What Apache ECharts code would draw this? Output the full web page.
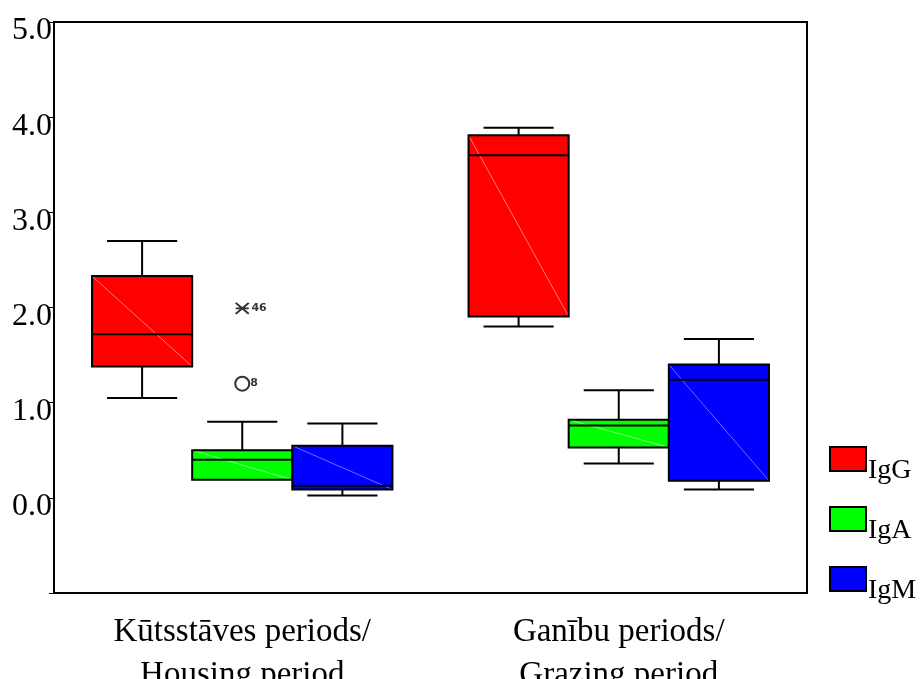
<!DOCTYPE html>
<html>
<head>
<meta charset="utf-8">
<script src="https://cdn.jsdelivr.net/npm/echarts@6/dist/echarts.min.js"></script>
<style>
  html, body { margin: 0; padding: 0; background: #fff; }
  #chart { width: 923px; height: 679px; }
</style>
</head>
<body>
<div id="chart"></div>
<script>
// Immunoglobulin levels by period: [min, Q1, median, Q3, max]
const categories = ['Kūtsstāves periods/\nHousing period', 'Ganību periods/\nGrazing period'];
const seriesNames = ['IgG', 'IgA', 'IgM'];
const igG = [[1.05, 1.38, 1.72, 2.33, 2.70], [1.80, 1.905, 3.60, 3.81, 3.89]];
const igA = [[0.19, 0.19, 0.40, 0.50, 0.80], [0.36, 0.53, 0.76, 0.82, 1.13]];
const igM = [[0.024, 0.087, 0.126, 0.547, 0.78], [0.087, 0.179, 1.24, 1.40, 1.67]];
// Outlying IgA cases: [category index, value, case label]
const igAExtremes = [[0, 1.99, '46']];
const igAOutliers = [[0, 1.20, '8']];
const yTicks = [-1, 0, 1, 2, 3, 4, 5];

const colors = ['#ff0000', '#00ff00', '#0000ff'];
const diagColors = ['#ff9a9a', '#9aff9a', '#8a8aff'];
const BOX_FRAC = 0.266;   // box width as a share of the category band
const CAP_FRAC = 0.7;     // whisker cap width as a share of the box width

function boxRender(pos) {
  return function (params, api) {
    const cat = api.value(0);
    const band = api.size([1, 0])[0];
    const bw = band * BOX_FRAC;
    const cx = api.coord([cat, 0])[0] + (pos - 1) * bw;
    const y = i => api.coord([cat, api.value(i)])[1];
    const yMin = y(1), yQ1 = y(2), yMed = y(3), yQ3 = y(4), yMax = y(5);
    const x0 = cx - bw / 2, x1 = cx + bw / 2;
    const cw = bw * CAP_FRAC;
    const line = (ax, ay, bx, by, w, c) => ({
      type: 'line',
      shape: { x1: ax, y1: ay, x2: bx, y2: by },
      style: { stroke: c || '#000', lineWidth: w }
    });
    const kids = [];
    // whiskers and caps
    if (yMax < yQ3) {
      kids.push(line(cx, yQ3, cx, yMax, 2));
      kids.push(line(cx - cw / 2, yMax, cx + cw / 2, yMax, 2));
    }
    if (yMin > yQ1) {
      kids.push(line(cx, yQ1, cx, yMin, 2));
      kids.push(line(cx - cw / 2, yMin, cx + cw / 2, yMin, 2));
    }
    // box body
    kids.push({
      type: 'rect',
      shape: { x: x0, y: yQ3, width: bw, height: yQ1 - yQ3 },
      style: { fill: colors[pos], stroke: 'none' }
    });
    kids.push(line(x0, yQ3, x1, yQ1, 0.8, diagColors[pos]));
    kids.push({
      type: 'rect',
      shape: { x: x0, y: yQ3, width: bw, height: yQ1 - yQ3 },
      style: { fill: 'none', stroke: '#000', lineWidth: 2 }
    });
    // median
    kids.push(line(x0, yMed, x1, yMed, 2));
    return { type: 'group', children: kids };
  };
}

function toItems(arr) {
  return arr.map((v, i) => [i].concat(v));
}

const serif = 'Liberation Serif, Times New Roman, serif';

const chart = echarts.init(document.getElementById('chart'));
chart.setOption({
  animation: false,
  backgroundColor: '#fff',
  grid: {
    left: 54, right: 116, top: 22, bottom: 86,
    containLabel: false, outerBoundsMode: 'none',
    show: true, borderColor: '#000', borderWidth: 2, backgroundColor: 'transparent'
  },
  legend: {
    data: seriesNames,
    orient: 'vertical',
    left: 824, top: 428,
    icon: 'rect',
    itemWidth: 36, itemHeight: 24, itemGap: 8,
    itemStyle: { borderColor: '#000', borderWidth: 2 },
    formatter: name => '\n' + name,
    textStyle: { fontFamily: serif, fontSize: 28, color: '#000', lineHeight: 24, padding: [0, 0, 0, -3] },
    selectedMode: false
  },
  xAxis: {
    type: 'category',
    data: categories,
    axisLine: { onZero: false, lineStyle: { color: '#000', width: 2 } },
    axisTick: { alignWithLabel: true, length: 7, lineStyle: { color: '#000', width: 1 } },
    axisLabel: { fontFamily: serif, fontSize: 33, color: '#000', margin: 18, lineHeight: 43 },
    splitLine: { show: false }
  },
  yAxis: {
    type: 'value',
    min: yTicks[0], max: yTicks[yTicks.length - 1], interval: 1,
    axisLine: { show: true, lineStyle: { color: '#000', width: 2 } },
    axisTick: { show: true, length: 5, lineStyle: { color: '#000', width: 1 } },
    axisLabel: {
      fontFamily: serif, fontSize: 32, color: '#000', margin: 2, lineHeight: 18,
      formatter: v => (v < 0 ? '' : '\n' + v.toFixed(1))
    },
    splitLine: { show: false }
  },
  series: [
    { name: 'IgG', type: 'custom', renderItem: boxRender(0), itemStyle: { color: colors[0] },
      encode: { x: 0, y: [1, 2, 3, 4, 5] }, data: toItems(igG), z: 2 },
    { name: 'IgA', type: 'custom', renderItem: boxRender(1), itemStyle: { color: colors[1] },
      encode: { x: 0, y: [1, 2, 3, 4, 5] }, data: toItems(igA), z: 2 },
    { name: 'IgM', type: 'custom', renderItem: boxRender(2), itemStyle: { color: colors[2] },
      encode: { x: 0, y: [1, 2, 3, 4, 5] }, data: toItems(igM), z: 2 },
    { name: 'IgA extremes', type: 'scatter', data: igAExtremes, z: 3,
      symbol: 'path://M0,0L12,10M12,0L0,10M0,5L12,5', symbolSize: [13, 11],
      itemStyle: { color: 'none', borderColor: '#000', borderWidth: 2 },
      label: { show: true, position: 'right', distance: 0, formatter: p => p.data[2],
        fontFamily: 'DejaVu Sans, sans-serif', fontSize: 11, fontWeight: 'bold', color: '#000' } },
    { name: 'IgA outliers', type: 'scatter', data: igAOutliers, z: 3,
      symbol: 'circle', symbolSize: 14,
      itemStyle: { color: '#fff', borderColor: '#000', borderWidth: 2 },
      label: { show: true, position: 'right', distance: 0, formatter: p => p.data[2],
        fontFamily: 'DejaVu Sans, sans-serif', fontSize: 11, fontWeight: 'bold', color: '#000' } }
  ]
});
</script>
</body>
</html>
